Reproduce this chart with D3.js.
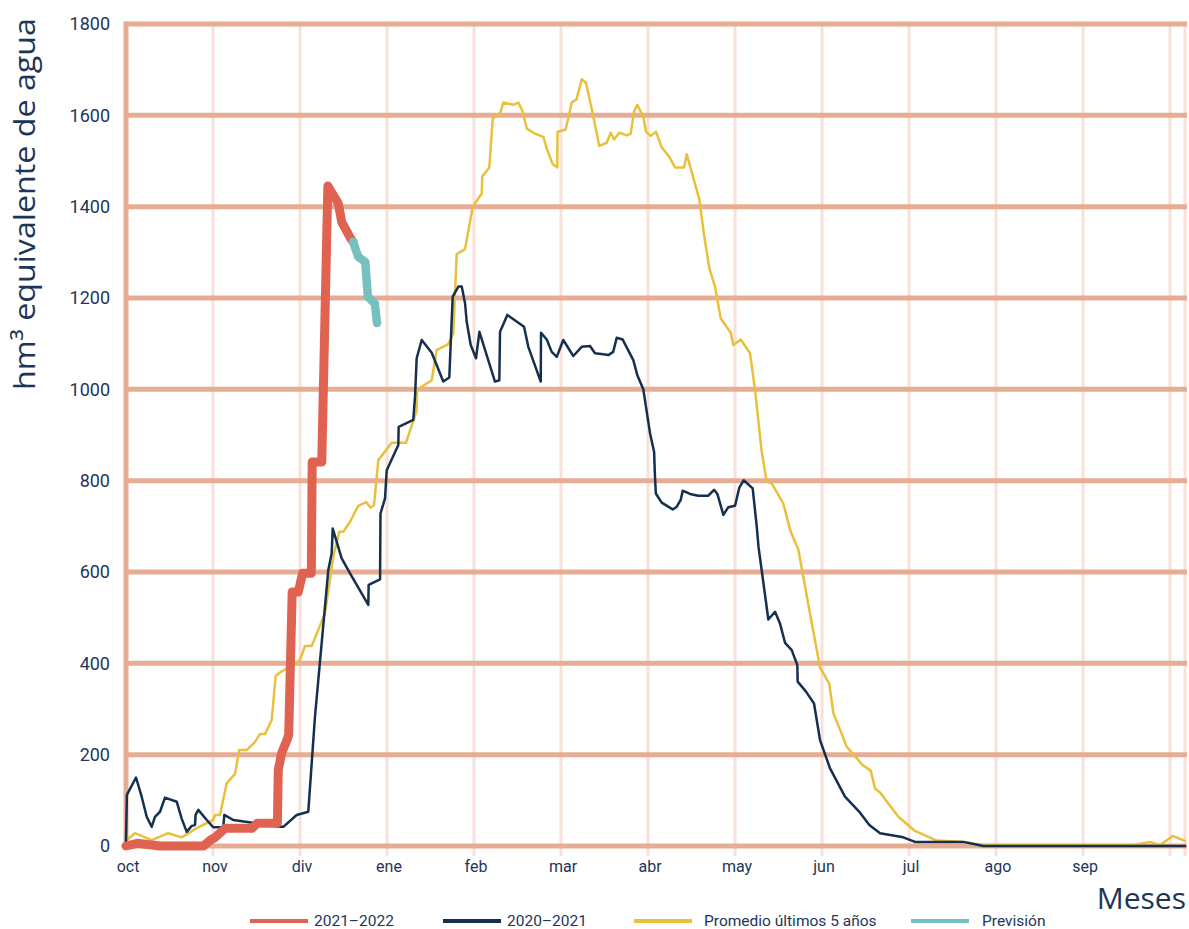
<!DOCTYPE html>
<html>
<head>
<meta charset="utf-8">
<script src="https://cdn.jsdelivr.net/npm/d3@7"></script>
<style>
  body { margin: 0; background: #fff; }
  text { fill: #1d3658; }
</style>
</head>
<body>
<script>
// Meses (x en fracción de mes desde el 1 de octubre)
var mesesLabels = ["oct", "nov", "div", "ene", "feb", "mar", "abr", "may", "jun", "jul", "ago", "sep"];
var yTicks = [0, 200, 400, 600, 800, 1000, 1200, 1400, 1600, 1800];

// 2021-2022
var serie2122 = [
    [0, 0], [0.13, 6], [0.39, 0], [0.89, 0], [0.97, 13], [1.02, 18], [1.14, 39], [1.45, 39],
    [1.51, 50], [1.74, 50], [1.75, 166], [1.79, 204], [1.85, 232], [1.87, 243], [1.91, 556],
    [1.98, 556], [2.03, 597], [2.13, 597], [2.14, 841], [2.25, 841], [2.32, 1445], [2.44, 1407],
    [2.48, 1366], [2.58, 1331], [2.61, 1323]
];

// Previsión
var prevision = [
    [2.61, 1323], [2.67, 1290], [2.75, 1279], [2.78, 1203], [2.86, 1188], [2.885, 1145]
];

// 2020-2021
var serie2021 = [
    [0.0, 10], [0.01, 112], [0.115, 150], [0.18, 108], [0.238, 64], [0.295, 42], [0.333, 64],
    [0.391, 75], [0.448, 106], [0.583, 97], [0.64, 60], [0.698, 31], [0.755, 44], [0.793, 46],
    [0.8, 68], [0.831, 79], [0.928, 57], [1.003, 41], [1.118, 41], [1.13, 68], [1.233, 57],
    [1.77, 42], [1.808, 42], [1.962, 68], [2.095, 75], [2.172, 283], [2.325, 604], [2.364, 641],
    [2.376, 695], [2.479, 630], [2.575, 597], [2.785, 528], [2.789, 572], [2.92, 584],
    [2.925, 728], [2.977, 761], [2.997, 823], [3.13, 878], [3.134, 918], [3.302, 933],
    [3.322, 984], [3.341, 1068], [3.399, 1108], [3.514, 1080], [3.647, 1017], [3.716, 1026],
    [3.755, 1203], [3.82, 1225], [3.859, 1225], [3.897, 1188], [3.916, 1148], [3.962, 1097],
    [4.023, 1068], [4.062, 1126], [4.241, 1017], [4.291, 1020], [4.299, 1126], [4.383, 1163],
    [4.575, 1137], [4.624, 1093], [4.767, 1017], [4.77, 1124], [4.836, 1109], [4.893, 1082],
    [4.951, 1071], [5.026, 1108], [5.141, 1073], [5.238, 1093], [5.333, 1095], [5.391, 1079],
    [5.486, 1077], [5.544, 1075], [5.6, 1082], [5.64, 1113], [5.709, 1109], [5.831, 1064],
    [5.877, 1031], [5.946, 1000], [6.023, 904], [6.07, 863], [6.08, 809], [6.09, 772],
    [6.157, 752], [6.284, 737], [6.33, 743], [6.376, 758], [6.399, 778], [6.483, 771],
    [6.578, 767], [6.693, 767], [6.759, 780], [6.797, 771], [6.866, 725], [6.923, 742],
    [7.0, 745], [7.05, 785], [7.1, 801], [7.203, 783], [7.25, 699], [7.27, 655], [7.383, 496],
    [7.46, 513], [7.517, 487], [7.575, 445], [7.652, 429], [7.716, 396], [7.72, 360],
    [7.816, 338], [7.908, 312], [7.977, 232], [8.092, 170], [8.264, 108], [8.437, 73],
    [8.544, 46], [8.667, 28], [8.934, 19], [9.069, 9], [9.624, 9], [9.854, 0], [12.172, 0]
];

// Promedio últimos 5 años
var promedio = [
    [0.01, 13], [0.103, 28], [0.295, 13], [0.486, 28], [0.64, 19], [0.813, 39], [1.003, 57],
    [1.023, 68], [1.08, 68], [1.157, 137], [1.253, 158], [1.302, 210], [1.387, 210],
    [1.483, 228], [1.54, 245], [1.598, 245], [1.675, 276], [1.72, 372], [1.77, 380],
    [2.0, 407], [2.057, 438], [2.134, 438], [2.287, 509], [2.383, 634], [2.452, 688],
    [2.498, 688], [2.575, 710], [2.67, 745], [2.759, 753], [2.813, 741], [2.851, 747],
    [2.9, 845], [3.054, 883], [3.218, 883], [3.34, 953], [3.345, 999], [3.514, 1020],
    [3.571, 1086], [3.705, 1099], [3.762, 1123], [3.801, 1296], [3.897, 1307], [3.985, 1400],
    [4.089, 1429], [4.095, 1466], [4.176, 1486], [4.215, 1593], [4.299, 1604], [4.337, 1628],
    [4.452, 1623], [4.509, 1628], [4.56, 1608], [4.606, 1571], [4.701, 1560], [4.797, 1553],
    [4.836, 1527], [4.905, 1493], [4.957, 1486], [4.96, 1564], [5.054, 1569], [5.123, 1628],
    [5.178, 1635], [5.238, 1679], [5.287, 1671], [5.364, 1604], [5.44, 1533], [5.525, 1540],
    [5.571, 1562], [5.609, 1547], [5.67, 1562], [5.755, 1556], [5.801, 1560], [5.839, 1608],
    [5.877, 1623], [5.946, 1597], [5.977, 1564], [6.031, 1555], [6.092, 1564], [6.157, 1530],
    [6.245, 1509], [6.31, 1486], [6.414, 1486], [6.445, 1515], [6.59, 1416], [6.644, 1338],
    [6.705, 1265], [6.77, 1225], [6.836, 1155], [6.951, 1124], [6.981, 1097], [7.066, 1109],
    [7.172, 1079], [7.23, 999], [7.307, 863], [7.364, 798], [7.422, 794], [7.555, 750],
    [7.64, 688], [7.727, 650], [7.862, 509], [7.977, 391], [8.084, 355], [8.13, 291],
    [8.226, 246], [8.284, 217], [8.468, 177], [8.56, 165], [8.609, 126], [8.667, 117],
    [8.877, 64], [9.069, 33], [9.318, 12], [9.624, 9], [9.854, 2], [11.578, 2], [11.77, 9],
    [11.885, 2], [12.031, 22], [12.172, 11]
];

var legendItems = ["2021–2022", "2020–2021", "Promedio últimos 5 años", "Previsión"];

var W = 1189, H = 929;
var margin = { top: 24, right: 4, bottom: 83, left: 126 };
var xMax = 12.172;

var svg = d3.select("body").append("svg")
    .attr("width", W)
    .attr("height", H);

var x = d3.scaleLinear().domain([0, xMax]).range([margin.left, W - margin.right]);
var y = d3.scaleLinear().domain([0, 1800]).range([H - margin.bottom, margin.top]);

var gridThin = "#f9e1d9", gridThick = "#e6ad94";

// vertical grid (months)
var vTicks = d3.range(1, 13).concat([xMax]);
svg.append("g").selectAll("line")
    .data(vTicks)
    .join("line")
    .attr("x1", d => x(d)).attr("x2", d => x(d))
    .attr("y1", y(1800)).attr("y2", y(0) + 10)
    .attr("stroke", gridThin)
    .attr("stroke-width", 3);

// horizontal grid
svg.append("g").selectAll("line")
    .data(yTicks)
    .join("line")
    .attr("x1", x(0) - 2).attr("x2", x(xMax) + 2)
    .attr("y1", d => y(d)).attr("y2", d => y(d))
    .attr("stroke", gridThick)
    .attr("stroke-width", 5);

// left axis line
svg.append("line")
    .attr("x1", x(0)).attr("x2", x(0))
    .attr("y1", y(1800) - 2.5).attr("y2", y(0))
    .attr("stroke", gridThick)
    .attr("stroke-width", 5);

// y tick labels
svg.append("g").selectAll("text")
    .data(yTicks)
    .join("text")
    .attr("x", 110)
    .attr("y", d => y(d))
    .attr("dy", "0.35em")
    .attr("text-anchor", "end")
    .style("font-family", "Roboto, 'Open Sans', sans-serif")
    .style("font-size", "18px")
    .text(d => d);

// x tick labels
svg.append("g").selectAll("text")
    .data(mesesLabels)
    .join("text")
    .attr("x", (d, i) => x(i) + 2)
    .attr("y", 872)
    .attr("text-anchor", "middle")
    .style("font-family", "Roboto, 'Open Sans', sans-serif")
    .style("font-size", "16px")
    .text(d => d);

// axis titles
svg.append("text")
    .attr("transform", "translate(35,18) rotate(-90)")
    .attr("text-anchor", "end")
    .attr("textLength", 372)
    .attr("lengthAdjust", "spacingAndGlyphs")
    .style("font-family", "'Open Sans', sans-serif")
    .style("font-size", "29px")
    .text("hm³ equivalente de agua");

svg.append("text")
    .attr("x", 1186)
    .attr("y", 909)
    .attr("text-anchor", "end")
    .style("font-family", "'Open Sans', sans-serif")
    .style("font-size", "30px")
    .text("Meses");

// lines
var line = d3.line()
    .x(d => x(d[0]))
    .y(d => y(d[1]));

var series = [
    { data: promedio, color: "#e8c03c", width: 2.5 },
    { data: serie2021, color: "#15304f", width: 2.5 },
    { data: serie2122, color: "#e06351", width: 9 },
    { data: prevision, color: "#77c0c0", width: 8.5 }
];

svg.append("g").selectAll("path")
    .data(series)
    .join("path")
    .attr("d", d => line(d.data))
    .attr("fill", "none")
    .attr("stroke", d => d.color)
    .attr("stroke-width", d => d.width)
    .attr("stroke-linejoin", "round")
    .attr("stroke-linecap", "round");

// legend
var legendColors = ["#e06351", "#15304f", "#e8c03c", "#77c0c0"];
var legendX = [250, 443, 634, 911];
var legendLen = 58;
var legendGap = [6, 6, 12, 13];
var lg = svg.append("g").selectAll("g")
    .data(legendItems)
    .join("g")
    .attr("transform", (d, i) => "translate(" + legendX[i] + ",921)");

lg.append("line")
    .attr("x1", 0).attr("x2", legendLen)
    .attr("y1", 0).attr("y2", 0)
    .attr("stroke", (d, i) => legendColors[i])
    .attr("stroke-width", 4);

lg.append("text")
    .attr("x", (d, i) => legendLen + legendGap[i])
    .attr("dy", "0.35em")
    .style("font-family", "Roboto, 'Open Sans', sans-serif")
    .style("font-size", "15.5px")
    .text(d => d);
</script>
</body>
</html>
